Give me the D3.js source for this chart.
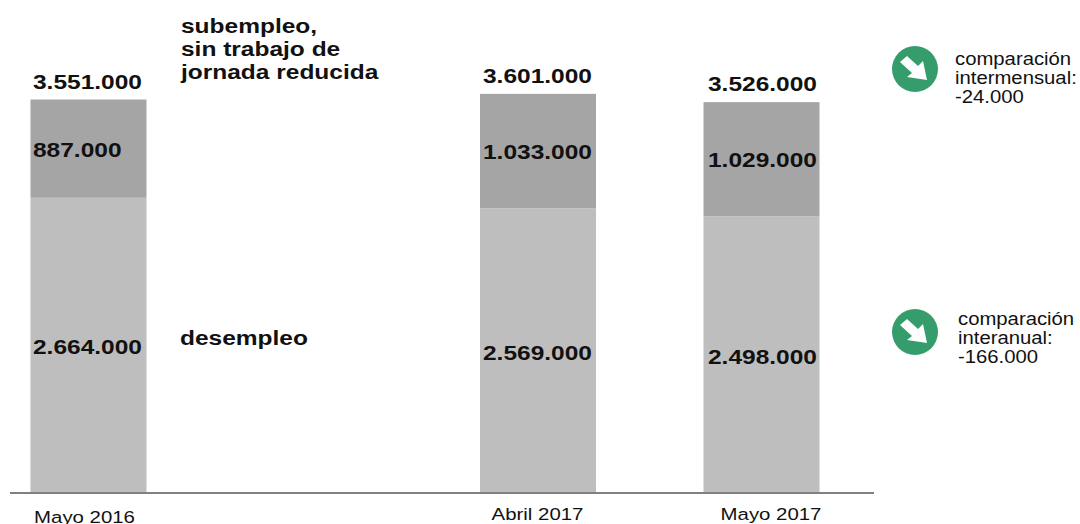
<!DOCTYPE html>
<html>
<head>
<meta charset="utf-8">
<script src="https://cdn.jsdelivr.net/npm/d3@7"></script>
<style>
html, body { margin: 0; padding: 0; background: #fff; overflow: hidden; }
text { font-family: "Liberation Sans", Arial, sans-serif; fill: #111; }
</style>
</head>
<body>
<div id="chart"></div>
<script>
var w = 1080, h = 524;

var categories = ["Mayo 2016", "Abril 2017", "Mayo 2017"];
var desempleo = [2664000, 2569000, 2498000];
var subempleo = [887000, 1033000, 1029000];
var totales = [3551000, 3601000, 3526000];
var comparaciones = [
    ["comparación", "intermensual:", "-24.000"],
    ["comparación", "interanual:", "-166.000"]
];

var es = d3.formatLocale({ decimal: ",", thousands: ".", grouping: [3], currency: ["", "€"] }).format(",d");

var svg = d3.select("#chart").append("svg")
    .attr("width", w)
    .attr("height", h);

// bars are not evenly spaced in the original, so left edges go in by hand
var x = d3.scaleOrdinal().domain(categories).range([30.5, 480, 703.5]);
var barW = 116;
var y = d3.scaleLinear().domain([0, 3551000]).range([493, 99.5]);

var rows = categories.map(function (c, i) {
    return { cat: c, desempleo: desempleo[i], subempleo: subempleo[i] };
});
var stack = d3.stack().keys(["desempleo", "subempleo"]);
var color = d3.scaleOrdinal().domain(["desempleo", "subempleo"]).range(["#bebebe", "#a5a5a5"]);

svg.selectAll("g.serie")
    .data(stack(rows))
    .enter().append("g")
    .attr("class", "serie")
    .attr("fill", function (d) { return color(d.key); })
    .selectAll("rect")
    .data(function (d) { return d; })
    .enter().append("rect")
    .attr("x", function (d) { return x(d.data.cat); })
    .attr("width", barW)
    .attr("y", function (d) { return y(d[1]); })
    .attr("height", function (d) { return y(d[0]) - y(d[1]); });

// axis line plus month labels
var xAxis = d3.scaleOrdinal().domain(categories).range([84, 537, 770.5]);
var axis = svg.append("g")
    .attr("transform", "translate(0,493)")
    .call(d3.axisBottom(xAxis).tickSize(0).tickPadding(0));
axis.select(".domain").remove();
axis.append("line")
    .attr("x1", 10).attr("x2", 874)
    .attr("stroke", "#808080").attr("stroke-width", 2);
axis.selectAll(".tick text")
    .attr("font-size", 17)
    .attr("font-family", "Liberation Sans")
    .attr("fill", "#111")
    .attr("dy", 0)
    .attr("y", function (d, i) { return i == 0 ? 30 : 27; })
    .attr("transform", "scale(1.2,1)");

// wide bold text, the source image is stretched sideways
function boldLabel(txt, px, py) {
    svg.append("text")
        .attr("transform", "translate(" + px + "," + py + ") scale(1.195,1)")
        .attr("font-size", 20.5)
        .attr("font-weight", "bold")
        .text(txt);
}

var leftPad = [2.5, 3, 4.5];
categories.forEach(function (c, i) {
    var lx = x(c) + leftPad[i];
    boldLabel(es(totales[i]), lx, y(totales[i]) - 11);
    boldLabel(es(subempleo[i]), lx, (y(desempleo[i] + subempleo[i]) + y(desempleo[i])) / 2 + 8);
    boldLabel(es(desempleo[i]), lx, y(desempleo[i] / 2) + 9);
});

["subempleo,", "sin trabajo de", "jornada reducida"].forEach(function (t, i) {
    boldLabel(t, 181, 33 + i * 23);
});
boldLabel("desempleo", 180, 345);

// green arrow badges
var badgeX = [915, 915], badgeY = [69, 332], noteX = [955, 958], noteY = [65, 325];
comparaciones.forEach(function (lines, i) {
    var g = svg.append("g").attr("transform", "translate(" + badgeX[i] + "," + badgeY[i] + ")");
    g.append("circle").attr("r", 23).attr("fill", "#359c6b");
    g.append("path")
        .attr("d", "M-15,-7 L-8,-13 L3,-3 L8,-8 L12,11 L-8,8 L-3,4 Z")
        .attr("fill", "#fff");
    lines.forEach(function (t, j) {
        svg.append("text")
            .attr("transform", "translate(" + noteX[i] + "," + (noteY[i] + j * 19) + ") scale(1.16,1)")
            .attr("font-size", 17.5)
            .text(t);
    });
});
</script>
</body>
</html>
